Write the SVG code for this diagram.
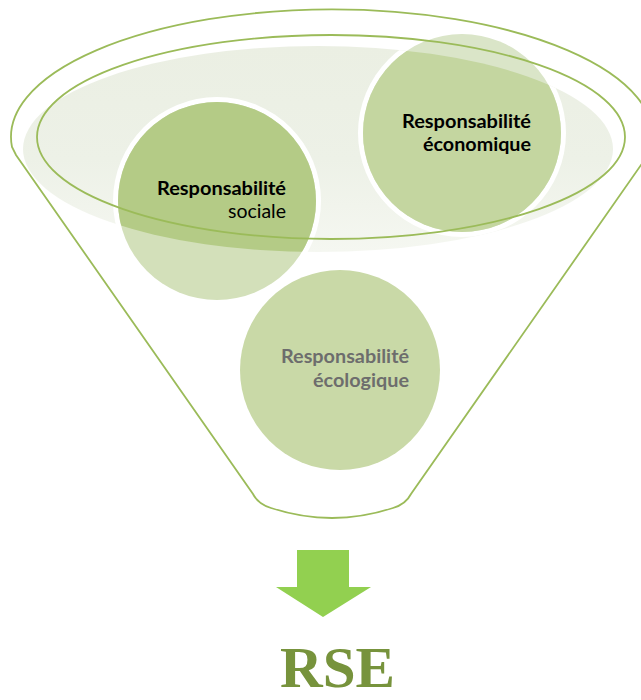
<svg xmlns="http://www.w3.org/2000/svg" width="641" height="700" viewBox="0 0 641 700">
  <defs>
    <style>
      .line { fill: none; stroke: #9BBB59; stroke-width: 1.8; }
      .ring { fill: #FFFFFF; }
      .lbl { font-family: "Lato", "Open Sans", "Liberation Sans", sans-serif; font-size: 18.5px; text-anchor: end; }
      .b { font-weight: bold; }
      .eco { fill: #6D6D6D; }
      .blk { fill: #000000; }
    </style>
    <linearGradient id="greyFill" x1="0" y1="0" x2="0" y2="1">
      <stop offset="0" stop-color="#EBEFE3"/>
      <stop offset="0.55" stop-color="#EDF1E7"/>
      <stop offset="1" stop-color="#F5F7F1"/>
    </linearGradient>
    <clipPath id="greyClip">
      <ellipse cx="318" cy="149" rx="295" ry="103"/>
    </clipPath>
  </defs>

  <g id="funnel-back">
    <ellipse cx="318" cy="149" rx="295" ry="103" fill="url(#greyFill)"/>
  </g>

  <g id="node-sociale">
    <circle class="ring" cx="217" cy="201" r="104"/>
    <circle cx="217" cy="201" r="99" fill="#D3E0BA"/>
    <circle cx="217" cy="201" r="99" fill="#B4CB86" clip-path="url(#greyClip)"/>
  </g>

  <g id="node-economique">
    <circle class="ring" cx="462" cy="133" r="104" clip-path="url(#greyClip)"/>
    <circle cx="462" cy="133" r="99" fill="#DAE5C8"/>
    <circle cx="462" cy="133" r="99" fill="#C4D6A0" clip-path="url(#greyClip)"/>
  </g>

  <g id="node-ecologique">
    <circle cx="340" cy="370" r="100" fill="#C9D9A7"/>
  </g>

  <g id="connectors">
    <path class="line" d="M 12 147 A 321 127.5 0 1 1 652 147 L 648 155 L 411 494 Q 406 504 393 508 Q 332 528 271 508 Q 258 504 253 494 L 16 155 Z"/>
    <ellipse class="line" cx="331" cy="137" rx="294" ry="102" stroke-width="2"/>
    <path d="M297 550 H349 V587 H371 L323 617 L276 587 H297 Z" fill="#92D050"/>
  </g>

  <g id="labels">
    <text class="lbl b blk" x="286" y="195" textLength="129" lengthAdjust="spacingAndGlyphs">Responsabilité</text>
    <text class="lbl blk" x="286" y="218" textLength="58" lengthAdjust="spacingAndGlyphs">sociale</text>
    <text class="lbl b blk" x="531" y="128" textLength="129" lengthAdjust="spacingAndGlyphs">Responsabilité</text>
    <text class="lbl b blk" x="531" y="151" textLength="108" lengthAdjust="spacingAndGlyphs">économique</text>
    <text class="lbl b eco" x="409" y="363" textLength="128" lengthAdjust="spacingAndGlyphs">Responsabilité</text>
    <text class="lbl b eco" x="409" y="387" textLength="96" lengthAdjust="spacingAndGlyphs">écologique</text>
    <text x="337.5" y="687" font-family="'Liberation Serif', 'Times New Roman', serif" font-weight="bold" font-size="56" fill="#77933C" text-anchor="middle" textLength="115" lengthAdjust="spacingAndGlyphs">RSE</text>
  </g>
</svg>
